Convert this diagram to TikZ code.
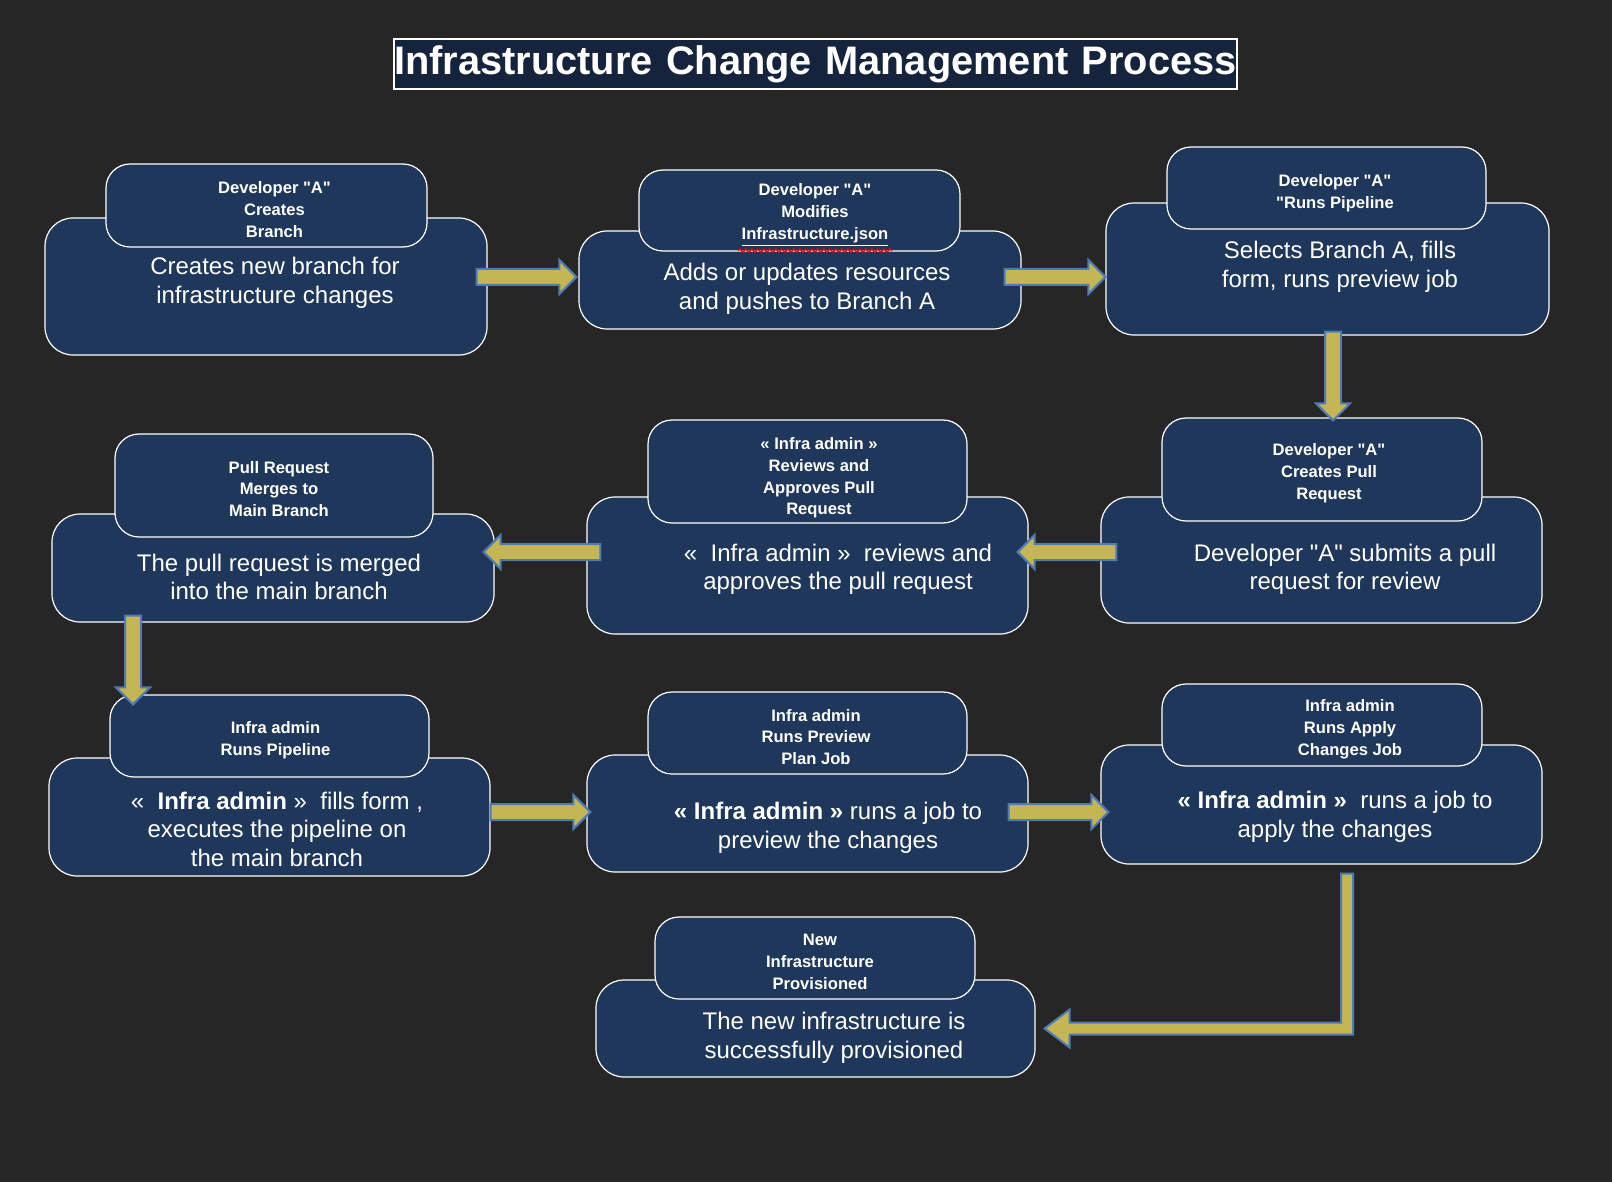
\documentclass[tikz,border=0pt]{standalone}
\usepackage{fontspec}
\setmainfont{Liberation Sans}[Ligatures=TeXOff]
\usetikzlibrary{calc,decorations.pathmorphing}
\definecolor{bg}{HTML}{262626}
\definecolor{boxfill}{HTML}{1F375A}
\definecolor{titlefill}{HTML}{16233C}
\definecolor{arrowfill}{HTML}{C4B655}
\definecolor{arrowline}{HTML}{4F7AB3}
\tikzset{
  outerbox/.style={draw=white, line width=0.6pt, fill=boxfill, rounded corners=14pt, inner sep=0pt},
  topbox/.style={draw=white, line width=0.6pt, fill=boxfill, rounded corners=12pt, inner sep=0pt},
  toptxt/.style={text=white, align=center, inner sep=0pt, font=\bfseries\fontsize{8.3}{10.9}\selectfont},
  maintxt/.style={text=white, align=center, inner sep=0pt, font=\fontsize{12}{14.25}\selectfont},
  blockarrow/.style={fill=arrowfill, draw=arrowline, line width=1pt, line join=miter},
  titlebox/.style={draw=white, line width=1pt, fill=titlefill, inner sep=0pt, text=white,
    font=\bfseries\fontsize{19.9}{24}\selectfont}
}
\newcommand\rarrowdraw[2]{\path[blockarrow] let \p1=(#1), \p2=(#2) in
  ({\x1},{\y1-4pt}) -- ({\x2-8.5pt},{\y1-4pt}) -- ({\x2-8.5pt},{\y1-8.5pt}) -- ({\x2},{\y1}) --
  ({\x2-8.5pt},{\y1+8.5pt}) -- ({\x2-8.5pt},{\y1+4pt}) -- ({\x1},{\y1+4pt}) -- cycle;}
\newcommand\larrowdraw[2]{\path[blockarrow] let \p1=(#1), \p2=(#2) in
  ({\x1},{\y1-4pt}) -- ({\x2+8.5pt},{\y1-4pt}) -- ({\x2+8.5pt},{\y1-8.5pt}) -- ({\x2},{\y1}) --
  ({\x2+8.5pt},{\y1+8.5pt}) -- ({\x2+8.5pt},{\y1+4pt}) -- ({\x1},{\y1+4pt}) -- cycle;}
\newcommand\darrowdraw[2]{\path[blockarrow] let \p1=(#1), \p2=(#2) in
  ({\x1-4pt},{\y1}) -- ({\x1-4pt},{\y2+8.5pt}) -- ({\x1-8.5pt},{\y2+8.5pt}) -- ({\x1},{\y2}) --
  ({\x1+8.5pt},{\y2+8.5pt}) -- ({\x1+4pt},{\y2+8.5pt}) -- ({\x1+4pt},{\y1}) -- cycle;}
\begin{document}
\begin{tikzpicture}[x=0.5pt,y=-0.5pt]
\fill[bg] (0,0) rectangle (1612,1182);
\useasboundingbox (0,0) rectangle (1612,1182);

% title
\node[titlebox, minimum width=421.5pt, minimum height=25pt, text width=421.5pt, align=center] (title) at (815.5,64) {\raisebox{-2.5pt}{Infrastructure Change Management Process}};

% row 1
\node[outerbox, minimum width=221pt, minimum height=68.5pt] (b1) at (266,286.5) {};
\node[topbox, minimum width=160.5pt, minimum height=41.5pt] (b1top) at (266.5,205.5) {};
\node[toptxt] (b1lab) at (274.5,209.5) {Developer "A"\\Creates\\Branch};
\node[maintxt] (b1txt) at (275,283) {Creates new branch for\\infrastructure changes};

\node[outerbox, minimum width=221pt, minimum height=49pt] (b2) at (800,280) {};
\node[topbox, minimum width=160.5pt, minimum height=40.5pt] (b2top) at (799.5,210.5) {};
\node[toptxt] (b2lab) at (815,215.5) {Developer "A"\\Modifies\\\underline{Infrastructure.json}};
\node[maintxt] (b2txt) at (807,289) {Adds or updates resources\\and pushes to Branch A};
\draw[red!90!black, line width=0.7pt, decorate, decoration={snake, amplitude=0.9pt, segment length=3pt}]
  ($(b2lab.center)+(-77,35)$) -- ($(b2lab.center)+(77,35)$);

\node[outerbox, minimum width=221.5pt, minimum height=66pt] (b3) at (1327.5,269) {};
\node[topbox, minimum width=159.5pt, minimum height=41pt] (b3top) at (1326.5,188) {};
\node[toptxt] (b3lab) at (1335,193) {Developer "A"\\"Runs Pipeline};
\node[maintxt] (b3txt) at (1340,267) {Selects Branch A, fills\\form, runs preview job};

% row 2
\node[outerbox, minimum width=221pt, minimum height=54pt] (b4) at (273,568) {};
\node[topbox, minimum width=159pt, minimum height=51.5pt] (b4top) at (274,485.5) {};
\node[toptxt] (b4lab) at (279,489) {Pull Request\\Merges to\\Main Branch};
\node[maintxt] (b4txt) at (279,577) {The pull request is merged\\into the main branch};

\node[outerbox, minimum width=220.5pt, minimum height=68.5pt] (b5) at (807.5,565.5) {};
\node[topbox, minimum width=159.5pt, minimum height=51.5pt] (b5top) at (807.5,471.5) {};
\node[toptxt] (b5lab) at (819,478) {« Infra admin »\\Reviews and\\Approves Pull\\Request};
\node[maintxt] (b5txt) at (838,569.5) {«\ \ Infra admin »\ \ reviews and\\approves the pull request};

\node[outerbox, minimum width=220.5pt, minimum height=63pt] (b6) at (1321.5,560) {};
\node[topbox, minimum width=160pt, minimum height=51.5pt] (b6top) at (1322,469.5) {};
\node[toptxt] (b6lab) at (1329,473.5) {Developer "A"\\Creates Pull\\Request};
\node[maintxt] (b6txt) at (1345,569.5) {Developer "A" submits a pull\\request for review};

% row 3
\node[outerbox, minimum width=220.5pt, minimum height=59pt] (b7) at (269.5,817) {};
\node[topbox, minimum width=159.5pt, minimum height=41pt] (b7top) at (269.5,736) {};
\node[toptxt] (b7lab) at (275.5,740) {Infra admin\\Runs Pipeline};
\node[maintxt] (b7txt) at (277,829) {«\ \ \textbf{Infra admin}\ »\ \ fills form ,\\executes the pipeline on\\the main branch};

\node[outerbox, minimum width=220.5pt, minimum height=58.5pt] (b8) at (807.5,813.5) {};
\node[topbox, minimum width=159.5pt, minimum height=41pt] (b8top) at (807.5,733) {};
\node[toptxt] (b8lab) at (816,737) {Infra admin\\Runs Preview\\Plan Job};
\node[maintxt] (b8txt) at (828,828) {\textbf{« Infra admin »} runs a job to\\preview the changes};

\node[outerbox, minimum width=220.5pt, minimum height=59.5pt] (b9) at (1321.5,804.5) {};
\node[topbox, minimum width=160pt, minimum height=41pt] (b9top) at (1322,725) {};
\node[toptxt] (b9lab) at (1350,729) {Infra admin\\Runs Apply\\Changes Job};
\node[maintxt] (b9txt) at (1335,817) {\textbf{« Infra admin »}\ \ runs a job to\\apply the changes};

% row 4
\node[outerbox, minimum width=219.5pt, minimum height=48.5pt] (b10) at (815.5,1028.5) {};
\node[topbox, minimum width=160pt, minimum height=41pt] (b10top) at (815,958) {};
\node[toptxt] (b10lab) at (820,962) {New\\Infrastructure\\Provisioned};
\node[maintxt] (b10txt) at (834,1038) {The new infrastructure is\\successfully provisioned};

% guide coordinates
\coordinate (r1) at (0,277);
\coordinate (r2) at (0,552);
\coordinate (r3) at (0,812);
\coordinate (c3) at (1333,0);
\coordinate (c6) at (133,0);
\coordinate (c9) at (1347,0);

\coordinate (a1s) at ($(b1.east|-r1)+(-11,0)$);
\coordinate (a1e) at ($(b2.west|-r1)+(-2,0)$);
\coordinate (a2s) at ($(b2.east|-r1)+(-17,0)$);
\coordinate (a2e) at (b3.west|-r1);
\coordinate (a3s) at ($(c3|-b3.south)+(0,-4)$);
\coordinate (a3e) at ($(c3|-b6top.north)+(0,3)$);
\coordinate (a4s) at ($(b6.west|-r2)+(16,0)$);
\coordinate (a4e) at ($(b5.east|-r2)+(-11,0)$);
\coordinate (a5s) at ($(b5.west|-r2)+(14,0)$);
\coordinate (a5e) at ($(b4.east|-r2)+(-11,0)$);
\coordinate (a6s) at ($(c6|-b4.south)+(0,-7)$);
\coordinate (a6e) at ($(c6|-b7top.north)+(0,10)$);
\coordinate (a7s) at (b7.east|-r3);
\coordinate (a7e) at ($(b8.west|-r3)+(4,0)$);
\coordinate (a8s) at ($(b8.east|-r3)+(-20,0)$);
\coordinate (a8e) at ($(b9.west|-r3)+(8,0)$);
\coordinate (a9s) at ($(c9|-b9.south)+(0,9)$);
\coordinate (a9e) at ($(b10.east)+(9,0)$);

\rarrowdraw{a1s}{a1e}
\rarrowdraw{a2s}{a2e}
\darrowdraw{a3s}{a3e}
\larrowdraw{a4s}{a4e}
\larrowdraw{a5s}{a5e}
\darrowdraw{a6s}{a6e}
\rarrowdraw{a7s}{a7e}
\rarrowdraw{a8s}{a8e}
\path[blockarrow] let \p1=(a9s), \p2=(a9e) in
  ({\x1-3pt},{\y1}) -- ({\x1-3pt},{\y2+3pt}) -- ({\x2+12.5pt},{\y2+3pt}) -- ({\x2+12.5pt},{\y2+9.5pt}) --
  ({\x2},{\y2}) -- ({\x2+12.5pt},{\y2-9.5pt}) -- ({\x2+12.5pt},{\y2-3pt}) -- ({\x1+3pt},{\y2-3pt}) --
  ({\x1+3pt},{\y1}) -- cycle;
\end{tikzpicture}
\end{document}
